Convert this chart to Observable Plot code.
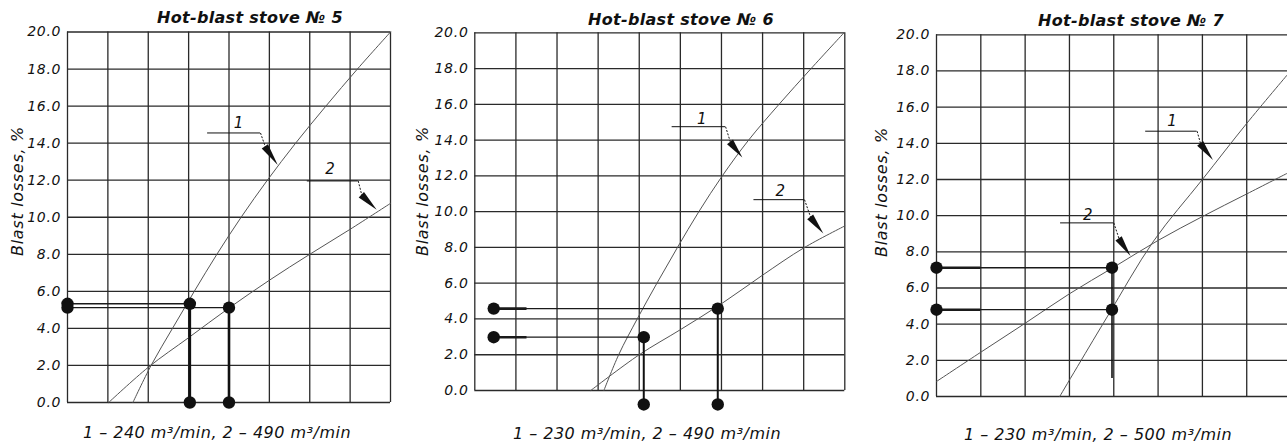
<!DOCTYPE html>
<html><head><meta charset="utf-8">
<script src="https://cdn.jsdelivr.net/npm/d3@7"></script>
<script src="https://cdn.jsdelivr.net/npm/@observablehq/plot@0.6"></script>
<style>
html,body{margin:0;padding:0;background:#fff;}
#root{position:relative;width:1287px;height:445px;overflow:hidden;font-family:"DejaVu Sans",sans-serif;color:#111;}
.panel{position:absolute;top:0;}
.title{position:absolute;width:400px;text-align:center;font-weight:bold;font-style:italic;font-size:16px;line-height:16px;letter-spacing:0.3px;white-space:nowrap;}
.caption{position:absolute;width:400px;text-align:center;font-style:italic;font-size:16px;line-height:16px;letter-spacing:0.5px;white-space:nowrap;}
.ylabel{position:absolute;width:200px;height:20px;line-height:20px;text-align:center;font-style:italic;font-size:16px;letter-spacing:0.7px;transform:rotate(-90deg);white-space:nowrap;}
</style></head><body><div id="root"></div><script>
// ---------- DATA ----------
const titles = ["Hot-blast stove № 5", "Hot-blast stove № 6", "Hot-blast stove № 7"];
const captions = ["1 – 240 m³/min, 2 – 490 m³/min", "1 – 230 m³/min, 2 – 490 m³/min", "1 – 230 m³/min, 2 – 500 m³/min"];
const yAxisLabel = "Blast losses, %";
const yTicks = [0, 2, 4, 6, 8, 10, 12, 14, 16, 18, 20];
const curveLabels = ["1", "2"];

// Stove 5
const s5Line1X = [1.62, 2.07, 2.6, 3.14, 3.7, 4.3, 4.95, 5.65, 6.4, 7.18, 8.0];
const s5Line1Y = [0, 2, 4, 6, 8, 10, 12, 14, 16, 18, 20];
const s5Line2X = [1.02, 2, 3, 4, 5, 6, 7, 8];
const s5Line2Y = [0, 1.9, 3.5, 5.1, 6.6, 8.0, 9.35, 10.75];
const s5DotX = [0, 0, 3.03, 4.0, 3.03, 4.0];
const s5DotY = [5.33, 5.12, 5.33, 5.12, 0, 0];
const s5GuideY = [5.33, 5.12];
const s5GuideX0 = [0, 0];
const s5GuideXm = [0, 0];
const s5GuideX1 = [3.03, 4.0];
const s5DropX = [3.03, 4.0];
const s5DropY0 = [5.33, 5.12];
const s5DropY1 = [0, 0];
const s5LabelX = [4.245, 6.51];
const s5LabelY = [15.06, 12.6];
const s5LeadX1 = [3.47, 5.94];
const s5LeadX2 = [4.78, 7.2];
const s5LeadY = [14.55, 11.96];
const s5BaseX = [4.9, 7.29];
const s5BaseY = [13.8, 11.19];
const s5TipX = [5.22, 7.67];
const s5TipY = [12.8, 10.38];

// Stove 6
const s6Line1X = [3.14, 3.5, 3.95, 4.43, 4.93, 5.45, 6.02, 6.66, 7.4, 8.18, 8.98];
const s6Line1Y = [0, 2, 4, 6, 8, 10, 12, 14, 16, 18, 20];
const s6Line2X = [2.82, 4, 5, 6, 7, 8, 9];
const s6Line2Y = [0, 2.0, 3.4, 4.85, 6.45, 7.97, 9.2];
const s6DotX = [0.46, 0.46, 4.11, 5.91, 4.11, 5.91];
const s6DotY = [4.58, 2.98, 2.98, 4.58, -0.78, -0.78];
const s6GuideY = [4.58, 2.98];
const s6GuideX0 = [0.46, 0.46];
const s6GuideXm = [1.27, 1.27];
const s6GuideX1 = [5.91, 4.11];
const s6DropX = [4.11, 5.91];
const s6DropY0 = [2.98, 4.58];
const s6DropY1 = [-0.78, -0.78];
const s6LabelX = [5.53, 7.44];
const s6LabelY = [15.18, 11.17];
const s6LeadX1 = [4.8, 6.79];
const s6LeadX2 = [6.1, 8.02];
const s6LeadY = [14.75, 10.67];
const s6BaseX = [6.22, 8.17];
const s6BaseY = [13.87, 9.68];
const s6TipX = [6.52, 8.49];
const s6TipY = [13.0, 8.75];

// Stove 7
const s7Line1X = [2.78, 3.85, 4.9, 6.0, 7.0, 7.92];
const s7Line1Y = [0, 4.4, 8.6, 12.0, 15.1, 17.8];
const s7Line2X = [0, 1, 2, 3, 4, 5, 6, 7, 7.92];
const s7Line2Y = [0.83, 2.45, 4.05, 5.68, 7.15, 8.63, 9.95, 11.2, 12.35];
const s7DotX = [0, 0, 3.96, 3.96];
const s7DotY = [7.12, 4.8, 7.12, 4.8];
const s7GuideY = [7.12, 4.8];
const s7GuideX0 = [0, 0];
const s7GuideXm = [1, 1];
const s7GuideX1 = [3.96, 3.96];
const s7DropX = [3.96];
const s7DropY0 = [7.12];
const s7DropY1 = [1.0];
const s7LabelX = [5.32, 3.42];
const s7LabelY = [15.23, 10.01];
const s7LeadX1 = [4.72, 2.8];
const s7LeadX2 = [5.88, 4.0];
const s7LeadY = [14.67, 9.6];
const s7BaseX = [5.96, 4.12];
const s7BaseY = [13.97, 8.72];
const s7TipX = [6.25, 4.39];
const s7TipY = [13.05, 7.74];

// ---------- BUILD ----------
const ns = "http://www.w3.org/2000/svg";
const zip = (xs, ys) => xs.map((x, i) => ({x, y: ys[i]}));

const panels = [
  {
    xDomain: [0, 8], cols: 8,
    l1: zip(s5Line1X, s5Line1Y), l2: zip(s5Line2X, s5Line2Y), dots: zip(s5DotX, s5DotY),
    guides: s5GuideY.map((y, i) => ({y, x0: s5GuideX0[i], xm: s5GuideXm[i], x1: s5GuideX1[i]})),
    drops: s5DropX.map((x, i) => ({x, y0: s5DropY0[i], y1: s5DropY1[i]})),
    labels: s5LabelX.map((x, i) => ({x, y: s5LabelY[i], t: curveLabels[i]})),
    leaders: s5LeadY.map((y, i) => ({y, x1: s5LeadX1[i], x2: s5LeadX2[i], bx: s5BaseX[i], by: s5BaseY[i], tx: s5TipX[i], ty: s5TipY[i]})),
    layout: {left: 0, width: 430, ml: 67, mr: 40, mt: 31.5, mb: 43, dropW: 2.6,
      title: [250, 9.8], caption: [217, 424.8], ylab: [17.5, 191]}
  },
  {
    xDomain: [0, 9], cols: 9,
    l1: zip(s6Line1X, s6Line1Y), l2: zip(s6Line2X, s6Line2Y), dots: zip(s6DotX, s6DotY),
    guides: s6GuideY.map((y, i) => ({y, x0: s6GuideX0[i], xm: s6GuideXm[i], x1: s6GuideX1[i]})),
    drops: s6DropX.map((x, i) => ({x, y0: s6DropY0[i], y1: s6DropY1[i]})),
    labels: s6LabelX.map((x, i) => ({x, y: s6LabelY[i], t: curveLabels[i]})),
    leaders: s6LeadY.map((y, i) => ({y, x1: s6LeadX1[i], x2: s6LeadX2[i], bx: s6BaseX[i], by: s6BaseY[i], tx: s6TipX[i], ty: s6TipY[i]})),
    layout: {left: 430, width: 430, ml: 44.3, mr: 15.7, mt: 32.3, mb: 55, dropW: 2,
      title: [681, 11.5], caption: [647, 425.8], ylab: [423, 191]}
  },
  {
    xDomain: [0, 7.92], cols: 7,
    l1: zip(s7Line1X, s7Line1Y), l2: zip(s7Line2X, s7Line2Y), dots: zip(s7DotX, s7DotY),
    guides: s7GuideY.map((y, i) => ({y, x0: s7GuideX0[i], xm: s7GuideXm[i], x1: s7GuideX1[i]})),
    drops: s7DropX.map((x, i) => ({x, y0: s7DropY0[i], y1: s7DropY1[i]})),
    labels: s7LabelX.map((x, i) => ({x, y: s7LabelY[i], t: curveLabels[i]})),
    leaders: s7LeadY.map((y, i) => ({y, x1: s7LeadX1[i], x2: s7LeadX2[i], bx: s7BaseX[i], by: s7BaseY[i], tx: s7TipX[i], ty: s7TipY[i]})),
    layout: {left: 860, width: 427, ml: 76, mr: 0, mt: 34.3, mb: 49, dropW: 1.6,
      title: [1131, 12.5], caption: [1098, 427.2], ylab: [882, 192]}
  }
];

function arrowHeads(leaders) {
  return (index, scales) => {
    const {x, y} = scales;
    const g = document.createElementNS(ns, "g");
    for (const d of leaders) {
      const tx = x(d.tx), ty = y(d.ty), bx = x(d.bx), by = y(d.by);
      const vx = tx - bx, vy = ty - by, len = Math.hypot(vx, vy);
      const nx = -vy / len * 3.8, ny = vx / len * 3.8;
      const p = document.createElementNS(ns, "polygon");
      p.setAttribute("points", `${tx},${ty} ${bx + nx},${by + ny} ${bx - nx},${by - ny}`);
      p.setAttribute("fill", "#111");
      g.appendChild(p);
    }
    return g;
  };
}

const root = document.getElementById("root");
titles.forEach((title, k) => {
  const P = panels[k], L = P.layout;
  const gridX = d3.range(0, P.cols + 1);
  const chart = Plot.plot({
    width: L.width, height: 445,
    marginLeft: L.ml, marginRight: L.mr, marginTop: L.mt, marginBottom: L.mb,
    x: {domain: P.xDomain, axis: null},
    y: {domain: [0, 20], axis: null},
    style: "font-family: 'DejaVu Sans', sans-serif; font-size: 14px; font-style: italic; letter-spacing: 0.7px; overflow: visible; background: transparent; color: #111;",
    marks: [
      Plot.ruleX(gridX, {stroke: "#2a2a2a", strokeWidth: 1.3}),
      Plot.ruleY(yTicks, {stroke: "#2a2a2a", strokeWidth: 1.3}),
      Plot.axisY(yTicks, {tickSize: 0, tickPadding: 6.3, tickFormat: d => d.toFixed(1), fill: "#111", label: null}),
      Plot.line(P.l1, {x: "x", y: "y", stroke: "#555", strokeWidth: 1, curve: "catmull-rom"}),
      Plot.line(P.l2, {x: "x", y: "y", stroke: "#555", strokeWidth: 1, curve: "catmull-rom"}),
      Plot.ruleY(P.guides, {y: "y", x1: "x0", x2: "x1", stroke: "#1a1a1a", strokeWidth: 1.3}),
      Plot.ruleY(P.guides, {y: "y", x1: "x0", x2: "xm", stroke: "#1a1a1a", strokeWidth: 2.6}),
      Plot.ruleX(P.drops, {x: "x", y1: "y0", y2: "y1", stroke: "#111", strokeWidth: L.dropW}),
      Plot.dot(P.dots, {x: "x", y: "y", r: 6.2, fill: "#111", stroke: null}),
      Plot.ruleY(P.leaders, {y: "y", x1: "x1", x2: "x2", stroke: "#111", strokeWidth: 1}),
      Plot.link(P.leaders, {x1: "x2", y1: "y", x2: "bx", y2: "by", stroke: "#111", strokeWidth: 1, strokeDasharray: "2,1.5"}),
      arrowHeads(P.leaders),
      Plot.text(P.labels, {x: "x", y: "y", text: "t", fontSize: 15, fill: "#111"})
    ]
  });
  const div = document.createElement("div");
  div.className = "panel";
  div.style.left = L.left + "px";
  div.style.width = L.width + "px";
  div.appendChild(chart);
  root.appendChild(div);

  const t = document.createElement("div");
  t.className = "title"; t.textContent = title;
  t.style.left = (L.title[0] - 200) + "px"; t.style.top = L.title[1] + "px";
  root.appendChild(t);

  const c = document.createElement("div");
  c.className = "caption"; c.textContent = captions[k];
  c.style.left = (L.caption[0] - 200) + "px"; c.style.top = L.caption[1] + "px";
  root.appendChild(c);

  const yl = document.createElement("div");
  yl.className = "ylabel"; yl.textContent = yAxisLabel;
  yl.style.left = (L.ylab[0] - 100) + "px"; yl.style.top = (L.ylab[1] - 10) + "px";
  root.appendChild(yl);
});
</script></body></html>
